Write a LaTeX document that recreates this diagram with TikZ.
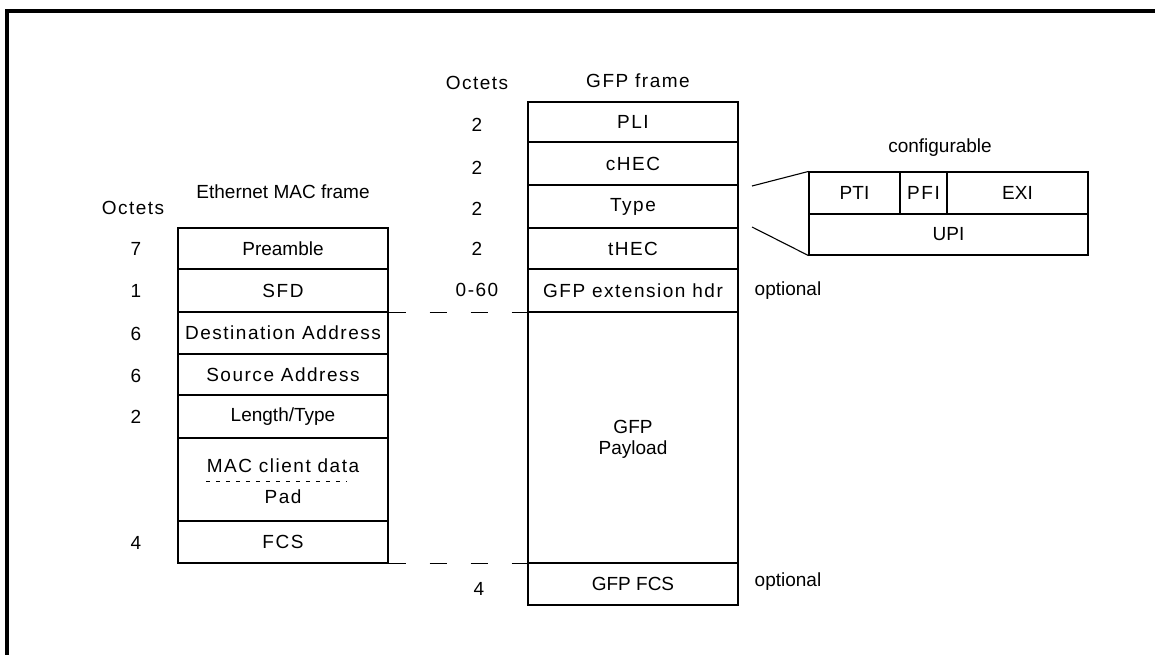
\documentclass[tikz,border=0pt]{standalone}
\usepackage{fontspec}
\setmainfont{Liberation Sans}
\newfontfamily\trackedfont[LetterSpace=8]{Liberation Sans}
\begin{document}
\begin{tikzpicture}[x=1pt,y=-1pt,
  txt/.style={inner sep=0pt, font=\fontsize{19}{22}\selectfont},
  wide/.style={inner sep=0pt, font=\trackedfont\fontsize{19}{22}\selectfont},
  cell/.style={draw, line width=1.1pt, inner sep=0pt, font=\fontsize{19}{22}\selectfont},
  wcell/.style={cell, font=\trackedfont\fontsize{19}{22}\selectfont},
  link/.style={line width=1.1pt, dash pattern=on 17pt off 24pt},
  edge/.style={line width=1.1pt}
]
\useasboundingbox (0,0) rectangle (1155,655);
% frame of the figure: top and left rules
\draw[line width=4pt] (7,655) -- (7,11) -- (1155,11);

% ---------- Ethernet MAC frame ----------
\node[txt]  (ethtitle) at (283,192) {Ethernet MAC frame};
\node[wide] (ethoct)   at (133,208) {Octets};
\node[cell,  minimum width=210pt, minimum height=41pt] (pre) at (283,248.5) {Preamble};
\node[wcell, minimum width=210pt, minimum height=43pt] (sfd) at (283,290.5) {SFD};
\node[wcell, minimum width=210pt, minimum height=42pt] (dst) at (283,333)   {Destination Address};
\node[wcell, minimum width=210pt, minimum height=41pt] (src) at (283,374.5) {Source Address};
\node[cell,  minimum width=210pt, minimum height=43pt] (len) at (283,416.5) {Length/Type};
\node[cell,  minimum width=210pt, minimum height=83pt] (mac) at (283,479.5) {};
\node[wcell, minimum width=210pt, minimum height=42pt] (fcs) at (283,542)   {FCS};
\node[wide] (macdata) at (283,466) {MAC client data};
\node[wide] (pad)     at (283,497) {Pad};
\draw[line width=1pt, dash pattern=on 4pt off 6pt] (206,481) -- (347,481);

\node[txt] (o1) at (136,249) {7};
\node[txt] (o2) at (136,291) {1};
\node[txt] (o3) at (136,334) {6};
\node[txt] (o4) at (136,376) {6};
\node[txt] (o5) at (136,417) {2};
\node[txt] (o6) at (136,543) {4};

% ---------- GFP frame ----------
\node[wide] (gfptitle) at (638,81) {GFP frame};
\node[wide] (gfpoct)   at (477,83) {Octets};
\node[wcell, minimum width=210pt, minimum height=40pt]  (pli)  at (633,122)   {PLI};
\node[wcell, minimum width=210pt, minimum height=43pt]  (chec) at (633,163.5) {cHEC};
\node[wcell, minimum width=210pt, minimum height=43pt]  (type) at (633,206.5) {Type};
\node[wcell, minimum width=210pt, minimum height=41pt]  (thec) at (633,248.5) {tHEC};
\node[wcell, minimum width=210pt, minimum height=43pt]  (ext)  at (633,290.5) {GFP extension hdr};
\node[cell,  minimum width=210pt, minimum height=251pt] (pay)  at (633,437.5) {};
\node[cell,  minimum width=210pt, minimum height=42pt]  (gfcs) at (633,584)   {GFP FCS};
\node[txt, align=center] (paytext) at (633,439) {GFP\\[-1pt]Payload};

\node[txt]  (g1) at (477,125) {2};
\node[txt]  (g2) at (477,168) {2};
\node[txt]  (g3) at (477,209) {2};
\node[txt]  (g4) at (477,249) {2};
\node[wide] (g5) at (477,290) {0-60};
\node[txt]  (g6) at (479,589) {4};

\node[txt] (opt1) at (788,291) {optional};
\node[txt] (opt2) at (788,582) {optional};

% ---------- configurable type field ----------
\node[txt] (conf) at (940,148) {configurable};
\node[cell,  minimum width=91pt,  minimum height=42pt] (pti) at (854.5,193)  {PTI};
\node[wcell, minimum width=47pt,  minimum height=42pt] (pfi) at (923.5,193)  {PFI};
\node[cell,  minimum width=141pt, minimum height=42pt] (exi) at (1017.5,193) {EXI};
\node[cell,  minimum width=279pt, minimum height=41pt] (upi) at (948.5,234.5) {UPI};
\coordinate (fanA) at (752,186);
\coordinate (fanB) at (752,227);
\draw[edge] (fanA) -- (pti.north west);
\draw[edge] (fanB) -- (upi.south west);

% ---------- correspondence between the frames ----------
\draw[link] (sfd.south east) -- (ext.south west);
\draw[link] (fcs.south east) -- (pay.south west);
\end{tikzpicture}
\end{document}
